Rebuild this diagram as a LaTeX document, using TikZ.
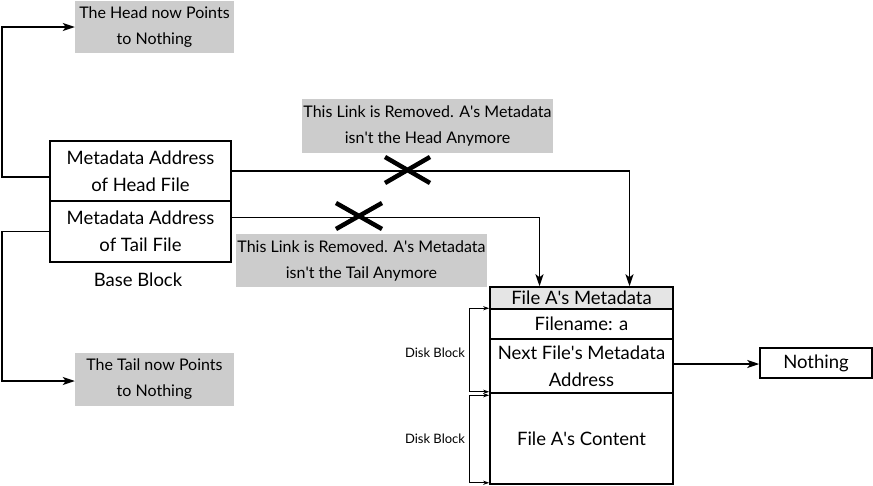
\documentclass[tikz,border=0pt]{standalone}
\usepackage{fontspec}
\setmainfont{Lato}
\usetikzlibrary{arrows.meta}

\tikzset{
  cell/.style={draw, line width=1.5pt, inner sep=0pt, align=center, font=\fontsize{18.5}{27}\selectfont},
  note/.style={fill=gray!40, inner sep=0pt, align=center, font=\fontsize{16}{26}\selectfont},
  link/.style={line width=1.8pt, -{Stealth[length=12pt,width=8pt,inset=3pt]}},
  bracket/.style={line width=0.9pt, {Stealth[length=6pt,width=4pt]}-{Stealth[length=6pt,width=4pt]}},
  cross/.style={line width=4.5pt},
}
\newcommand{\q}{\textquotesingle}

\begin{document}
\begin{tikzpicture}[x=1pt,y=-1pt]
    \useasboundingbox (0,0) rectangle (873,485);

    % base block
    \node[cell, minimum width=181pt, minimum height=60pt] (head) at (140.5,171) {Metadata Address\\of Head File};
    \node[cell, minimum width=181pt, minimum height=61pt] (tail) at (140.5,231.5) {Metadata Address\\of Tail File};
    \node[font=\fontsize{18.5}{20}\selectfont] (base) at (138,280) {Base Block};

    % notes
    \node[note, minimum width=159pt, minimum height=52pt] (headnote) at (154.5,27) {The Head now Points\\to Nothing};
    \node[note, minimum width=159pt, minimum height=53pt] (tailnote) at (154.5,379) {The Tail now Points\\to Nothing};
    \node[note, minimum width=251pt, minimum height=54pt] (headgone) at (427.5,126) {This Link is Removed. A\q s Metadata\\isn\q t the Head Anymore};
    \node[note, minimum width=251pt, minimum height=53pt] (tailgone) at (361.5,260.5) {This Link is Removed. A\q s Metadata\\isn\q t the Tail Anymore};

    % file A
    \node[cell, fill=gray!20, minimum width=183pt, minimum height=22pt] (meta) at (581.5,298) {File A\q s Metadata};
    \node[cell, minimum width=183pt, minimum height=30pt] (fname) at (581.5,324) {Filename: a};
    \node[cell, minimum width=183pt, minimum height=54pt] (next) at (581.5,366) {Next File\q s Metadata\\Address};
    \node[cell, minimum width=183pt, minimum height=91pt] (content) at (581.5,438.5) {File A\q s Content};
    \node[cell, minimum width=112pt, minimum height=30pt] (nothing) at (816,363) {Nothing};

    \node[font=\fontsize{13}{14}\selectfont] (disk1) at (435,353) {Disk Block};
    \node[font=\fontsize{13}{14}\selectfont] (disk2) at (435,439) {Disk Block};

    % links
    \draw[link] ([yshift=-6pt]head.west) -| (2,27) -- (headnote.west);
    \draw[link] (tail.west) -| (2,381) -- ([yshift=-2pt]tailnote.west);
    \draw[link] (head.east) -| ([xshift=48pt]meta.north);
    \draw[link] ([yshift=14pt]tail.east) -| ([xshift=-42pt]meta.north);
    \draw[link] ([yshift=2pt]next.east) -- ([yshift=2pt]next.east -| nothing.west);

    % removed links
    \draw[cross] (385,157) -- (430,183);
    \draw[cross] (385,183) -- (430,157);
    \draw[cross] (336,203) -- (382,229);
    \draw[cross] (336,229) -- (382,203);

    % disk blocks
    \draw[bracket] (fname.north west) -- ++(-20,0) |- ([yshift=2pt]next.south west);
    \draw[bracket] ([yshift=-3pt]content.north west) -- ++(-20,0) |- ([yshift=2pt]content.south west);
\end{tikzpicture}
\end{document}
